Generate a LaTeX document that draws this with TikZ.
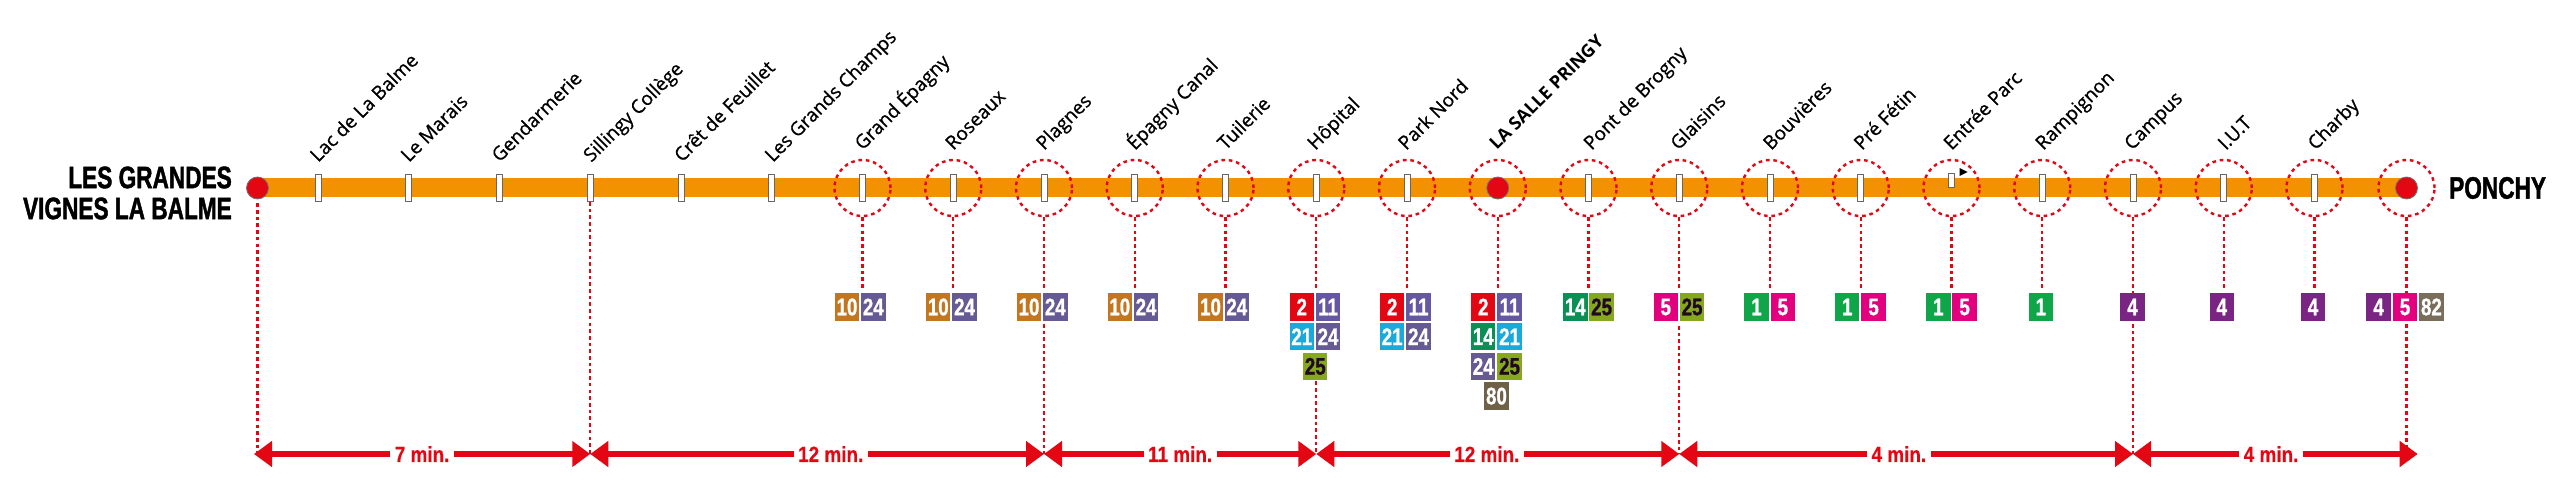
\documentclass[tikz,border=0pt]{standalone}
\usepackage{fontspec}
\usepackage{tikz}
\usetikzlibrary{shapes,arrows.meta,positioning,calc}
\setmainfont[UprightFeatures={FakeBold=0.8}]{Open Sans}
\newfontfamily\heavyfont[BoldFeatures={FakeStretch=0.73,FakeBold=1.4}]{Liberation Sans}
\newfontfamily\badgefont[BoldFeatures={FakeStretch=0.78,FakeBold=1}]{Liberation Sans}
\newfontfamily\timefont[BoldFeatures={FakeStretch=0.86,FakeBold=0.3}]{Liberation Sans}
\definecolor{routeorange}{HTML}{F39200}
\definecolor{alertred}{HTML}{E30613}
\definecolor{c1}{HTML}{0FA64A}
\definecolor{c2}{HTML}{E30613}
\definecolor{c4}{HTML}{7A2483}
\definecolor{c5}{HTML}{E3007F}
\definecolor{c10}{HTML}{C4761F}
\definecolor{c11}{HTML}{6657A2}
\definecolor{c14}{HTML}{0A8F55}
\definecolor{c21}{HTML}{1AA9DD}
\definecolor{c24}{HTML}{655A93}
\definecolor{c25}{HTML}{86A81F}
\definecolor{c80}{HTML}{6F6048}
\definecolor{c82}{HTML}{7A6E5A}
\tikzset{
route/.style = {draw=routeorange, line width=19pt},
stop/.style = {draw=black!60, fill=white, rectangle, line width=1pt, inner sep=0pt, minimum width=6pt, minimum height=27pt},
stopshort/.style = {stop, minimum height=14pt},
flag/.style = {fill=black, isosceles triangle, isosceles triangle stretches, inner sep=0pt, minimum width=8pt, minimum height=8pt},
hub/.style = {draw=black!55, fill=alertred, circle, line width=0.8pt, inner sep=0pt, minimum size=22pt},
ring/.style = {draw=alertred, circle, line width=2.4pt, dash pattern=on 3.6pt off 3.8pt, inner sep=0pt, minimum size=56pt},
drop/.style = {draw=alertred, line width=2.4pt, dash pattern=on 3.6pt off 3.1pt, xshift=-1pt},
stopname/.style = {rotate=45, anchor=base west, inner sep=0pt, font=\fontsize{19}{20}\selectfont},
hubname/.style = {stopname, font=\fontsize{18}{20}\selectfont\bfseries},
terminus/.style = {inner sep=0pt, align=right, font=\fontsize{31}{31}\selectfont\heavyfont\bfseries},
badge/.style = {rectangle, inner sep=0pt, minimum width=24.4pt, minimum height=27.6pt, text=white, font=\fontsize{24}{24}\selectfont\badgefont\bfseries},
l1/.style = {badge, fill=c1},
l2/.style = {badge, fill=c2},
l4/.style = {badge, fill=c4},
l5/.style = {badge, fill=c5},
l10/.style = {badge, fill=c10},
l11/.style = {badge, fill=c11},
l14/.style = {badge, fill=c14},
l21/.style = {badge, fill=c21},
l24/.style = {badge, fill=c24},
l25/.style = {badge, fill=c25, text=black!75!c4},
l80/.style = {badge, fill=c80},
l82/.style = {badge, fill=c82},
timespan/.style = {<->, draw=alertred, line width=6pt},
timelabel/.style = {fill=white, text=alertred, inner xsep=4.5pt, inner ysep=6pt, font=\fontsize{22}{22}\selectfont\timefont\bfseries},
}
\begin{document}
\begin{tikzpicture}[x=1pt, y=1pt, node distance=90.75pt, >={Triangle[length=18pt,width=25pt]}]
      \useasboundingbox (0,0) rectangle (2560,501);
      \coordinate (west) at (257.5,313);
      \coordinate (east) at (2406.5,313);
      \coordinate (tstart) at (254,47);
      \coordinate (tend) at (2417.7,47);
      \draw [route] (west) -- (east);
      \node [hub] (start) at (west) {};
      \node [stop] (lac) at (318,313) {};
      \node [stop, right of = lac] (marais) {};
      \node [stop, right of = marais] (gendarmerie) {};
      \node [stop, right of = gendarmerie] (sillingy) {};
      \node [stop, right of = sillingy] (cret) {};
      \node [stop, right of = cret] (champs) {};
      \node [stop, right of = champs] (grandepagny) {};
      \node [stop, right of = grandepagny] (roseaux) {};
      \node [stop, right of = roseaux] (plagnes) {};
      \node [stop, right of = plagnes] (canal) {};
      \node [stop, right of = canal] (tuilerie) {};
      \node [stop, right of = tuilerie] (hopital) {};
      \node [stop, right of = hopital] (parknord) {};
      \node [hub, right of = parknord] (lasalle) {};
      \node [stop, right of = lasalle] (brogny) {};
      \node [stop, right of = brogny] (glaisins) {};
      \node [stop, right of = glaisins] (bouvieres) {};
      \node [stop, right of = bouvieres] (prefetin) {};
      \coordinate [right of = prefetin] (parc);
      \node [stopshort] (parctick) at ([yshift=7pt]parc) {};
      \node [flag] (parcflag) at ([xshift=10.5pt,yshift=16pt]parc) {};
      \node [stop, right of = parc] (rampignon) {};
      \node [stop, right of = rampignon] (campus) {};
      \node [stop, right of = campus] (iut) {};
      \node [stop, right of = iut] (charby) {};
      \node [hub] (end) at (east) {};

      \node [terminus, anchor=east] (startname) at (232,308) {LES GRANDES\\VIGNES LA BALME};
      \node [terminus, anchor=west] (endname) at (2449,313) {PONCHY};

      \node [stopname] (lacname) at ([shift={(0,25)}]lac) {Lac de La Balme};
      \node [stopname] (maraisname) at ([shift={(0,25)}]marais) {Le Marais};
      \node [stopname] (gendarmeriename) at ([shift={(0,25)}]gendarmerie) {Gendarmerie};
      \node [stopname] (sillingyname) at ([shift={(1,25)}]sillingy) {Sillingy Collège};
      \node [stopname] (cretname) at ([shift={(1,25)}]cret) {Crêt de Feuillet};
      \node [stopname] (champsname) at ([shift={(1,25)}]champs) {Les Grands Champs};
      \node [stopname] (grandepagnyname) at ([shift={(0,37)}]grandepagny) {Grand Épagny};
      \node [stopname] (roseauxname) at ([shift={(0,37)}]roseaux) {Roseaux};
      \node [stopname] (plagnesname) at ([shift={(0,37)}]plagnes) {Plagnes};
      \node [stopname] (canalname) at ([shift={(0,37)}]canal) {Épagny Canal};
      \node [stopname] (tuileriename) at ([shift={(0,37)}]tuilerie) {Tuilerie};
      \node [stopname] (hopitalname) at ([shift={(-1,37)}]hopital) {Hôpital};
      \node [stopname] (parknordname) at ([shift={(-1,37)}]parknord) {Park Nord};
      \node [hubname] (lasallename) at ([shift={(-1,37)}]lasalle) {LA SALLE PRINGY};
      \node [stopname] (brognyname) at ([shift={(3,37)}]brogny) {Pont de Brogny};
      \node [stopname] (glaisinsname) at ([shift={(-1,37)}]glaisins) {Glaisins};
      \node [stopname] (bouvieresname) at ([shift={(1,37)}]bouvieres) {Bouvières};
      \node [stopname] (prefetinname) at ([shift={(1,37)}]prefetin) {Pré Fétin};
      \node [stopname] (parcname) at ([shift={(0,37)}]parc) {Entrée Parc};
      \node [stopname] (rampignonname) at ([shift={(1,37)}]rampignon) {Rampignon};
      \node [stopname] (campusname) at ([shift={(-1,37)}]campus) {Campus};
      \node [stopname] (iutname) at ([shift={(2,37)}]iut) {I.U.T};
      \node [stopname] (charbyname) at ([shift={(1,37)}]charby) {Charby};

      \node [ring] (ringgrandepagny) at (grandepagny) {};
      \node [ring] (ringroseaux) at (roseaux) {};
      \node [ring] (ringplagnes) at (plagnes) {};
      \node [ring] (ringcanal) at (canal) {};
      \node [ring] (ringtuilerie) at (tuilerie) {};
      \node [ring] (ringhopital) at (hopital) {};
      \node [ring] (ringparknord) at (parknord) {};
      \node [ring] (ringlasalle) at (lasalle) {};
      \node [ring] (ringbrogny) at (brogny) {};
      \node [ring] (ringglaisins) at (glaisins) {};
      \node [ring] (ringbouvieres) at (bouvieres) {};
      \node [ring] (ringprefetin) at (prefetin) {};
      \node [ring] (ringparc) at (parc) {};
      \node [ring] (ringrampignon) at (rampignon) {};
      \node [ring] (ringcampus) at (campus) {};
      \node [ring] (ringiut) at (iut) {};
      \node [ring] (ringcharby) at (charby) {};
      \node [ring] (ringend) at (east) {};

      \node [l10, below of = grandepagny, node distance=119pt, xshift=-15.5pt] (grandepagnya) {10};
      \node [l24, right of = grandepagnya, node distance=26.3pt] (grandepagnyb) {24};
      \node [l10, below of = roseaux, node distance=119pt, xshift=-15pt] (roseauxa) {10};
      \node [l24, right of = roseauxa, node distance=26.3pt] (roseauxb) {24};
      \node [l10, below of = plagnes, node distance=119pt, xshift=-15pt] (plagnesa) {10};
      \node [l24, right of = plagnesa, node distance=26.3pt] (plagnesb) {24};
      \node [l10, below of = canal, node distance=119pt, xshift=-15pt] (canala) {10};
      \node [l24, right of = canala, node distance=26.3pt] (canalb) {24};
      \node [l10, below of = tuilerie, node distance=119pt, xshift=-15pt] (tuileriea) {10};
      \node [l24, right of = tuileriea, node distance=26.3pt] (tuilerieb) {24};

      \node [l2, below of = hopital, node distance=119pt, xshift=-14.5pt] (hopitala) {2};
      \node [l11, right of = hopitala, node distance=26.3pt] (hopitalb) {11};
      \node [l21, below of = hopitala, node distance=29.7pt] (hopitalc) {21};
      \node [l24, right of = hopitalc, node distance=26.3pt] (hopitald) {24};
      \node [l25, below of = hopitalc, node distance=29.7pt, xshift=13.5pt] (hopitale) {25};
      \node [l2, below of = parknord, node distance=119pt, xshift=-14.8pt] (parknorda) {2};
      \node [l11, right of = parknorda, node distance=26.3pt] (parknordb) {11};
      \node [l21, below of = parknorda, node distance=29.7pt] (parknordc) {21};
      \node [l24, right of = parknordc, node distance=26.3pt] (parknordd) {24};
      \node [l2, below of = lasalle, node distance=119pt, xshift=-14.5pt] (lasallea) {2};
      \node [l11, right of = lasallea, node distance=26.3pt] (lasalleb) {11};
      \node [l14, below of = lasallea, node distance=29.7pt] (lasallec) {14};
      \node [l21, right of = lasallec, node distance=26.3pt] (lasalled) {21};
      \node [l24, below of = lasallec, node distance=29.7pt] (lasallee) {24};
      \node [l25, right of = lasallee, node distance=26.3pt] (lasallef) {25};
      \node [l80, below of = lasallee, node distance=29.7pt, xshift=13.2pt] (lasalleg) {80};

      \node [l14, below of = brogny, node distance=119pt, xshift=-13.2pt] (brognya) {14};
      \node [l25, right of = brognya, node distance=26.3pt] (brognyb) {25};
      \node [l5, below of = glaisins, node distance=119pt, xshift=-13.5pt] (glaisinsa) {5};
      \node [l25, right of = glaisinsa, node distance=26.3pt] (glaisinsb) {25};
      \node [l1, below of = bouvieres, node distance=119pt, xshift=-13.5pt] (bouvieresa) {1};
      \node [l5, right of = bouvieresa, node distance=26.3pt] (bouvieresb) {5};
      \node [l1, below of = prefetin, node distance=119pt, xshift=-13.5pt] (prefetina) {1};
      \node [l5, right of = prefetina, node distance=26.3pt] (prefetinb) {5};
      \node [l1, below of = parc, node distance=119pt, xshift=-13.2pt] (parca) {1};
      \node [l5, right of = parca, node distance=26.3pt] (parcb) {5};
      \node [l1, below of = rampignon, node distance=119pt, xshift=-1.4pt] (rampignona) {1};
      \node [l4, below of = campus, node distance=119pt, xshift=-0.5pt] (campusa) {4};
      \node [l4, below of = iut, node distance=119pt, xshift=-2pt] (iuta) {4};
      \node [l4, below of = charby, node distance=119pt, xshift=-1.5pt] (charbya) {4};
      \node [l5, below of = end, node distance=119pt, xshift=-1.5pt] (endb) {5};
      \node [l4, left of = endb, node distance=26.4pt] (enda) {4};
      \node [l82, right of = endb, node distance=26.4pt] (endc) {82};

      \draw [drop, shorten <=4pt] (start.south) -- (start.south |- tstart);
      \draw [drop] (sillingy.south) -- (sillingy.south |- tstart);
      \draw [drop] (ringgrandepagny.south) -- ([yshift=3pt]ringgrandepagny.south |- grandepagnya.north);
      \draw [drop] (ringroseaux.south) -- ([yshift=3pt]ringroseaux.south |- roseauxa.north);
      \draw [drop] (ringplagnes.south) -- ([yshift=3pt]ringplagnes.south |- plagnesa.north);
      \draw [drop] ([yshift=-3pt]ringplagnes.south |- plagnesa.south) -- (ringplagnes.south |- tstart);
      \draw [drop] (ringcanal.south) -- ([yshift=3pt]ringcanal.south |- canala.north);
      \draw [drop] (ringtuilerie.south) -- ([yshift=3pt]ringtuilerie.south |- tuileriea.north);
      \draw [drop] (ringhopital.south) -- ([yshift=3pt]ringhopital.south |- hopitala.north);
      \draw [drop] ([yshift=-1pt]ringhopital.south |- hopitale.south) -- (ringhopital.south |- tstart);
      \draw [drop] (ringparknord.south) -- ([yshift=3pt]ringparknord.south |- parknorda.north);
      \draw [drop] (ringlasalle.south) -- ([yshift=3pt]ringlasalle.south |- lasallea.north);
      \draw [drop] (ringbrogny.south) -- ([yshift=3pt]ringbrogny.south |- brognya.north);
      \draw [drop] (ringglaisins.south) -- ([yshift=3pt]ringglaisins.south |- glaisinsa.north);
      \draw [drop] ([yshift=-5pt]ringglaisins.south |- glaisinsa.south) -- (ringglaisins.south |- tstart);
      \draw [drop] (ringbouvieres.south) -- ([yshift=3pt]ringbouvieres.south |- bouvieresa.north);
      \draw [drop] (ringprefetin.south) -- ([yshift=3pt]ringprefetin.south |- prefetina.north);
      \draw [drop] (ringparc.south) -- ([yshift=3pt]ringparc.south |- parca.north);
      \draw [drop] (ringrampignon.south) -- ([yshift=3pt]ringrampignon.south |- rampignona.north);
      \draw [drop] (ringcampus.south) -- (ringcampus.south |- campusa.north);
      \draw [drop] ([yshift=-3pt]ringcampus.south |- campusa.south) -- (ringcampus.south |- tstart);
      \draw [drop] (ringiut.south) -- ([yshift=3pt]ringiut.south |- iuta.north);
      \draw [drop] (ringcharby.south) -- ([yshift=3pt]ringcharby.south |- charbya.north);
      \draw [drop] (ringend.south) -- (ringend.south |- endb.north);
      \draw [drop] ([yshift=-3pt]ringend.south |- endb.south) -- (ringend.south |- tstart);

      \coordinate (tsillingy) at (sillingy |- tstart);
      \coordinate (tplagnes) at (plagnes |- tstart);
      \coordinate (thopital) at (hopital |- tstart);
      \coordinate (tglaisins) at (glaisins |- tstart);
      \coordinate (tcampus) at (campus |- tstart);
      \draw [timespan] (tstart) -- node [timelabel, pos=.5] (timea) {7 min.} (tsillingy);
      \draw [timespan] (tsillingy) -- node [timelabel, pos=.53] (timeb) {12 min.} (tplagnes);
      \draw [timespan] (tplagnes) -- node [timelabel, pos=.5] (timec) {11 min.} (thopital);
      \draw [timespan] (thopital) -- node [timelabel, pos=.47] (timed) {12 min.} (tglaisins);
      \draw [timespan] (tglaisins) -- node [timelabel, pos=.484] (timee) {4 min.} (tcampus);
      \draw [timespan] (tcampus) -- node [timelabel, pos=.485] (timef) {4 min.} (tend);
      \end{tikzpicture}
\end{document}
